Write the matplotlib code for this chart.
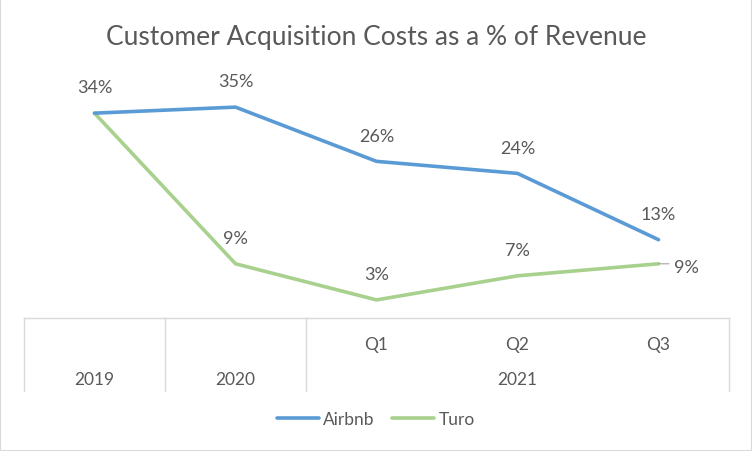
import numpy as np
import matplotlib.pyplot as plt
from matplotlib.transforms import blended_transform_factory

plt.rcParams['font.family'] = ['Lato', 'DejaVu Sans']

# data
periods = ['2019', '2020', 'Q1', 'Q2', 'Q3']
quarters = ['', '', 'Q1', 'Q2', 'Q3']
years = ['2019', '2020', '2021']
year_pos = [0, 1, 3]
airbnb = [34, 35, 26, 24, 13]
turo = [34, 9, 3, 7, 9]

blue = '#5B9BD5'
green = '#A9D18E'
txt = '#595959'
gridc = '#D9D9D9'

fig = plt.figure(figsize=(7.52, 4.52), dpi=100)
ax = fig.add_axes([24/752, 133/452, 705/752, 241/452])

x = np.arange(len(periods))
ax.plot(x, airbnb, color=blue, lw=2.6, label='Airbnb', solid_capstyle='round', zorder=3)
ax.plot(x, turo, color=green, lw=2.6, label='Turo', solid_capstyle='round', zorder=2)
ax.set_xlim(-0.5, 4.5)
ax.set_ylim(0, 40)
ax.set_xticks([])
ax.set_yticks([])
for s in ax.spines.values():
    s.set_visible(False)

# data labels
lfs = 13
for i, v in enumerate(airbnb):
    ax.annotate(f'{v}%', (i, v), xytext=(0, 18.5), textcoords='offset points',
                ha='center', va='center', fontsize=lfs, color=txt)
for i, v in enumerate(turo):
    if i == 0:
        continue
    if i == len(turo) - 1:
        # label sits right of the last point with a short leader line
        ax.annotate(f'{v}%', (i, v), xytext=(11.5, -2), textcoords='offset points',
                    ha='left', va='center', fontsize=lfs, color=txt)
        ax.annotate('', (i, v), xytext=(i + 0.075, v),
                    arrowprops=dict(arrowstyle='-', color='#A6A6A6', lw=0.8,
                                    shrinkA=0, shrinkB=0))
        continue
    ax.annotate(f'{v}%', (i, v), xytext=(0, 18.5), textcoords='offset points',
                ha='center', va='center', fontsize=lfs, color=txt)

# multi-level category axis
afs = 12.5
tr = blended_transform_factory(ax.transData, ax.transAxes)
bot = -73/241
ax.plot([-0.5, 4.5], [0, 0], color=gridc, lw=1, transform=tr, clip_on=False)
for xv in [-0.5, 0.5, 1.5, 4.5]:
    ax.plot([xv, xv], [0, bot], color=gridc, lw=1, transform=tr, clip_on=False)
for i, q in enumerate(quarters):
    if q:
        ax.text(i, -26/241, q, transform=tr, ha='center', va='center', fontsize=afs, color=txt)
for p, yl in zip(year_pos, years):
    ax.text(p, -61/241, yl, transform=tr, ha='center', va='center', fontsize=afs, color=txt)

fig.text(376/752, 1 - 37/452, 'Customer Acquisition Costs as a % of Revenue',
         ha='center', va='center', fontsize=19, color=txt)

fig.legend(loc='center', bbox_to_anchor=(0.5, 1 - 420/452), ncol=2, frameon=False,
           fontsize=afs, labelcolor=txt, handlelength=2.4, handletextpad=0.25,
           columnspacing=1.0)

# outer border
fig.patches.append(plt.Rectangle((0, 0), 1, 1, transform=fig.transFigure, fill=False,
                                 edgecolor=gridc, lw=1.5))

plt.savefig('out.png', dpi=100)
